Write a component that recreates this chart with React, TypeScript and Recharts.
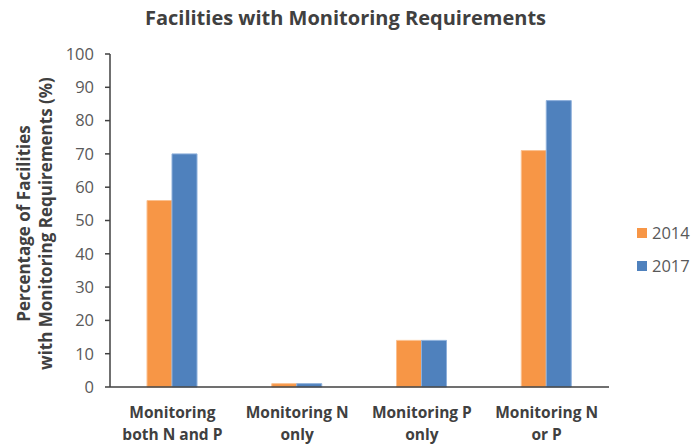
import { BarChart, Bar, XAxis, YAxis, Legend } from 'recharts'

const categories = ['Monitoring\nboth N and P', 'Monitoring N\nonly', 'Monitoring P\nonly', 'Monitoring N\nor P']
const values2014 = [56, 1, 14, 71]
const values2017 = [70, 1, 14, 86]
const yTicks = [0, 10, 20, 30, 40, 50, 60, 70, 80, 90, 100]

const data = categories.map((name, i) => ({ name, y2014: values2014[i], y2017: values2017[i] }))

const font = '"Open Sans", sans-serif'

const CategoryTick = ({ x, y, payload }: any) => {
  const lines = String(payload.value).split('\n')
  return (
    <text x={x} y={y} textAnchor='middle' fill='#404040' fontSize={15.5} fontWeight='bold' fontFamily={font}>
      {lines.map((l, i) => (
        <tspan key={i} x={x} dy={i === 0 ? 23 : 22}>{l}</tspan>
      ))}
    </text>
  )
}

const YLabel = ({ viewBox }: any) => {
  const cy = viewBox.y + viewBox.height / 2 + 3
  return (
    <text transform={`rotate(-90 0 ${cy})`} textAnchor='middle' fill='#404040' fontSize={17} fontWeight='bold' fontFamily={font}>
      <tspan x={0} y={cy + 30}>Percentage of Facilities</tspan>
      <tspan x={0} y={cy + 52}>with Monitoring Requirements (%)</tspan>
    </text>
  )
}

const LegendBox = () => (
  <div style={{ fontFamily: font, fontSize: 16.5, color: '#595959' }}>
    {[['2014', '#F79646'], ['2017', '#4F81BD']].map(([label, c]) => (
      <div key={label} style={{ display: 'flex', alignItems: 'center', height: 33 }}>
        <span style={{ width: 10, height: 10, background: c, marginRight: 5, display: 'inline-block' }} />
        {label}
      </div>
    ))}
  </div>
)

export default function App () {
  return (
    <div style={{ position: 'absolute', left: 0, top: 0, width: 691, height: 448, background: '#fff' }}>
      <div style={{ position: 'absolute', left: 0, top: 4, width: 691, textAlign: 'center', fontFamily: font, fontWeight: 'bold', fontSize: 20, color: '#404040' }}>
        Facilities with Monitoring Requirements
      </div>
      <BarChart width={691} height={448} data={data} margin={{ top: 54, right: 82, left: 60, bottom: 11 }} barGap={0} barSize={25}>
        <XAxis dataKey='name' height={50} tickLine={false} axisLine={{ stroke: '#404040', strokeWidth: 1.5 }} tick={<CategoryTick />} interval={0} />
        <YAxis width={50} domain={[0, 100]} ticks={yTicks} interval={0} tickLine={{ stroke: '#404040', strokeWidth: 1.5 }} tickSize={5} tickMargin={11} axisLine={{ stroke: '#404040', strokeWidth: 1.5 }} tick={{ fill: '#595959', fontSize: 16.5, fontFamily: font }} label={<YLabel />} />
        <Legend layout='vertical' align='center' verticalAlign='middle' content={<LegendBox />} wrapperStyle={{ left: 637, top: 216, width: 60 }} />
        <Bar dataKey='y2014' name='2014' fill='#F79646' stroke='#FBC08F' strokeWidth={1} isAnimationActive={false} />
        <Bar dataKey='y2017' name='2017' fill='#4F81BD' stroke='#8EB0DB' strokeWidth={1} isAnimationActive={false} />
      </BarChart>
    </div>
  )
}
